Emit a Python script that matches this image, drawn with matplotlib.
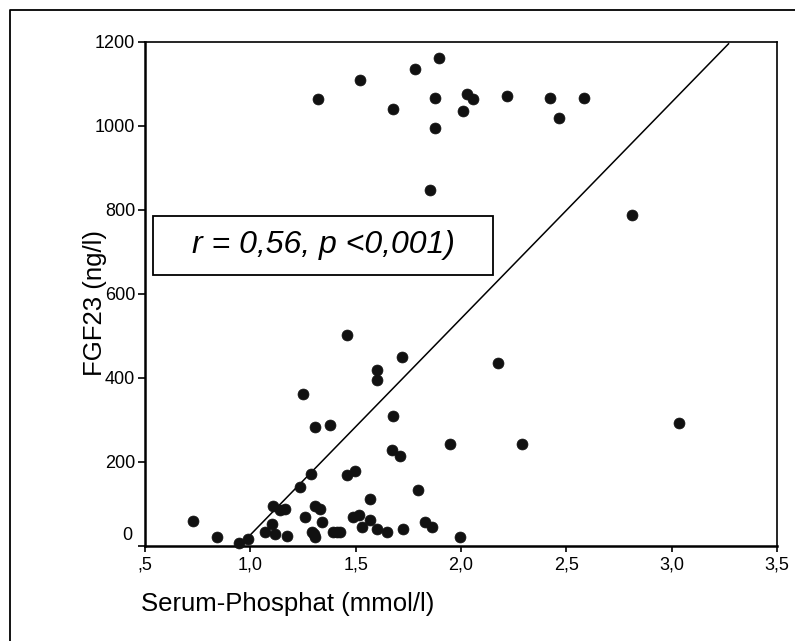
import matplotlib
matplotlib.use("Agg")
import matplotlib.pyplot as plt
from matplotlib.lines import Line2D
from matplotlib.patches import Rectangle

plt.rcParams['font.family'] = ['Liberation Sans', 'DejaVu Sans']

# serum phosphate (mmol/l) vs FGF23 (ng/l)
phosphat = [1.323, 1.520, 1.678, 1.781, 1.895, 1.876, 1.876, 1.853, 2.027, 2.058,
            2.011, 2.217, 2.422, 2.465, 2.584, 2.813, 2.177, 3.036, 1.948, 2.288,
            1.457, 1.718, 1.600, 1.600, 1.251, 1.307, 1.378, 1.678, 1.671, 1.710,
            1.457, 1.497, 1.797, 1.568, 1.489, 1.516, 1.568, 1.528, 1.600, 1.647,
            1.726, 1.829, 1.861, 1.995, 1.392, 1.410, 1.428, 0.729, 0.840, 0.948,
            0.990, 1.288, 1.236, 1.109, 1.143, 1.164, 1.307, 1.331, 1.259, 1.339,
            1.101, 1.070, 1.117, 1.172, 1.291, 1.307, 1.300]
fgf23 = [1063, 1110, 1039, 1134, 1162, 1065, 995, 847, 1075, 1063,
         1036, 1071, 1067, 1019, 1067, 787, 434, 291, 242, 242,
         502, 449, 418, 394, 362, 283, 287, 310, 228, 214,
         168, 179, 132, 111, 68, 73, 61, 45, 40, 32,
         40, 56, 45, 20, 32, 32, 32, 60, 20, 7,
         15, 171, 139, 95, 85, 87, 95, 87, 68, 56,
         52, 32, 28, 24, 32, 20, 28]

# regression line end points
line_x = [0.95, 3.27]
line_y = [0, 1195]

x_ticks = [0.5, 1.0, 1.5, 2.0, 2.5, 3.0, 3.5]
x_labels = [',5', '1,0', '1,5', '2,0', '2,5', '3,0', '3,5']
y_ticks = [0, 200, 400, 600, 800, 1000, 1200]

fig = plt.figure(figsize=(7.95, 6.41), dpi=100)
ax = fig.add_axes([145/795, 1 - 545.7/641, 632/795, 504/641])

ax.scatter(phosphat, fgf23, s=62, marker='o', color='#111111', edgecolors='#111111',
           linewidths=0.5, zorder=3, clip_on=False)
ax.plot(line_x, line_y, color='black', lw=1.1, zorder=2)

ax.set_xlim(0.5, 3.5)
ax.set_ylim(0, 1200)
ax.set_xticks(x_ticks)
ax.set_xticklabels(x_labels, fontsize=13)
ax.set_yticks(y_ticks)
ax.set_yticklabels([''] + [str(v) for v in y_ticks[1:]], fontsize=13)
ax.annotate('0', xy=(0, 0), xycoords=('axes fraction', 'data'), xytext=(-9, 7),
            textcoords='offset points', ha='right', va='center', fontsize=13)
ax.tick_params(axis='x', direction='out', length=4, width=1.2, pad=4)
ax.tick_params(axis='y', direction='out', length=5, width=1.2, pad=2)

for side in ['left', 'bottom']:
    ax.spines[side].set_linewidth(1.8)
for side in ['top', 'right']:
    ax.spines[side].set_linewidth(1.2)

fig.text(288/795, 1 - 604/641, 'Serum-Phosphat (mmol/l)', fontsize=18.5,
         ha='center', va='center')
fig.text(95/795, 1 - 303/641, 'FGF23 (ng/l)', fontsize=18.5, rotation=90,
         ha='center', va='center')

# annotation box
fig.patches.append(Rectangle((153/795, 1 - 275/641), 340/795, 59/641,
                             transform=fig.transFigure, fill=False,
                             edgecolor='black', lw=1.3))
fig.text(323/795, 1 - 245.5/641, 'r = 0,56, p <0,001)', fontsize=23,
         style='italic', ha='center', va='center')

# outer frame, only left and top edges visible
fig.lines.append(Line2D([10/795, 10/795, 1], [0, 1 - 10/641, 1 - 10/641],
                        transform=fig.transFigure, color='black', lw=1.3))

fig.savefig('out.png', dpi=100)
